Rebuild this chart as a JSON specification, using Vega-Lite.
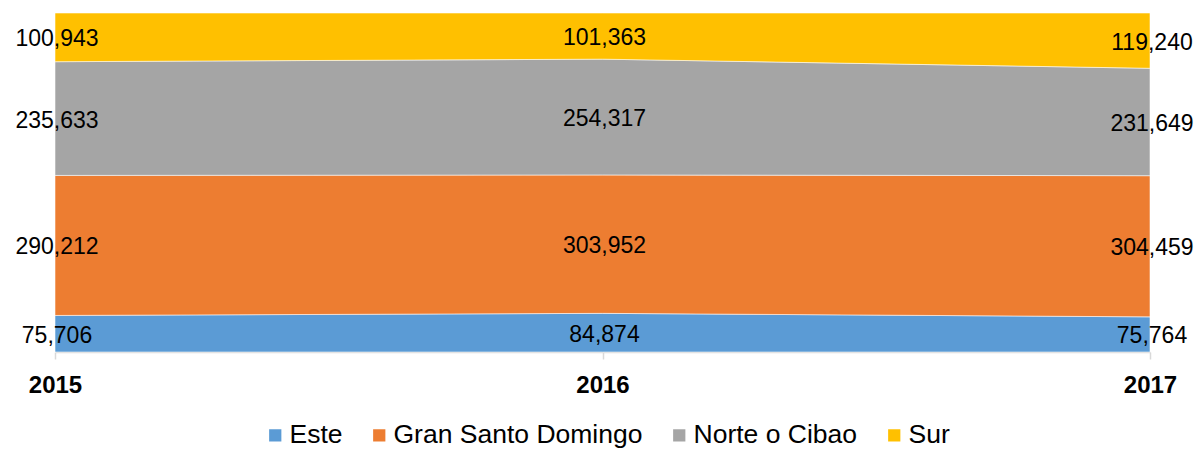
{
  "$schema": "https://vega.github.io/schema/vega-lite/v6.json",
  "autosize": {"type": "none"},
  "padding": {"left": 55, "top": 13, "right": 52, "bottom": 98},
  "width": 1095,
  "height": 339,
  "background": "white",
  "config": {"view": {"stroke": null}, "font": "Liberation Sans"},
  "data": {"values": [
    {"year": 2015, "region": "Este", "value": 75706},
    {"year": 2015, "region": "Gran Santo Domingo", "value": 290212},
    {"year": 2015, "region": "Norte o Cibao", "value": 235633},
    {"year": 2015, "region": "Sur", "value": 100943},
    {"year": 2016, "region": "Este", "value": 84874},
    {"year": 2016, "region": "Gran Santo Domingo", "value": 303952},
    {"year": 2016, "region": "Norte o Cibao", "value": 254317},
    {"year": 2016, "region": "Sur", "value": 101363},
    {"year": 2017, "region": "Este", "value": 75764},
    {"year": 2017, "region": "Gran Santo Domingo", "value": 304459},
    {"year": 2017, "region": "Norte o Cibao", "value": 231649},
    {"year": 2017, "region": "Sur", "value": 119240}
  ]},
  "transform": [
    {"stack": "value", "groupby": ["year"], "sort": [{"field": "region", "order": "ascending"}], "as": ["v0", "v1"], "offset": "normalize"},
    {"calculate": "(datum.v0 + datum.v1) / 2", "as": "vmid"}
  ],
  "encoding": {
    "x": {"field": "year", "type": "ordinal", "scale": {"type": "point", "padding": 0},
      "axis": {"title": null, "grid": false, "labelAngle": 0,
        "domainColor": "#d9d9d9", "domainWidth": 1.5, "tickColor": "#d9d9d9", "tickWidth": 1.5, "tickSize": 7,
        "labelFontSize": 24, "labelFontWeight": "bold", "labelColor": "#000000", "labelPadding": 14,
        "labelFlush": false, "labelOverlap": false, "labelBound": false}}
  },
  "layer": [
    {
      "mark": {"type": "area", "stroke": "#ffffff", "strokeWidth": 0.8, "strokeOpacity": 0.7},
      "encoding": {
        "y": {"field": "v0", "type": "quantitative", "scale": {"domain": [0, 1], "nice": false}, "axis": null},
        "y2": {"field": "v1"},
        "color": {"field": "region", "type": "nominal",
          "scale": {"domain": ["Este", "Gran Santo Domingo", "Norte o Cibao", "Sur"], "range": ["#5B9BD5", "#ED7D31", "#A5A5A5", "#FFC000"]},
          "legend": {"title": null, "orient": "none", "legendX": 207, "legendY": 409, "direction": "horizontal", "symbolType": "square", "symbolSize": 150,
            "symbolStrokeWidth": 0, "labelFontSize": 26.5, "labelColor": "#000000", "labelLimit": 500, "labelOffset": 1, "columnPadding": 23}},
        "order": {"field": "region"}
      }
    },
    {
      "mark": {"type": "text", "fontSize": 23, "color": "#000000", "align": "center", "baseline": "middle", "dx": 2, "dy": 2},
      "encoding": {
        "y": {"field": "vmid", "type": "quantitative"},
        "text": {"field": "value", "type": "quantitative", "format": ","}
      }
    }
  ]
}
